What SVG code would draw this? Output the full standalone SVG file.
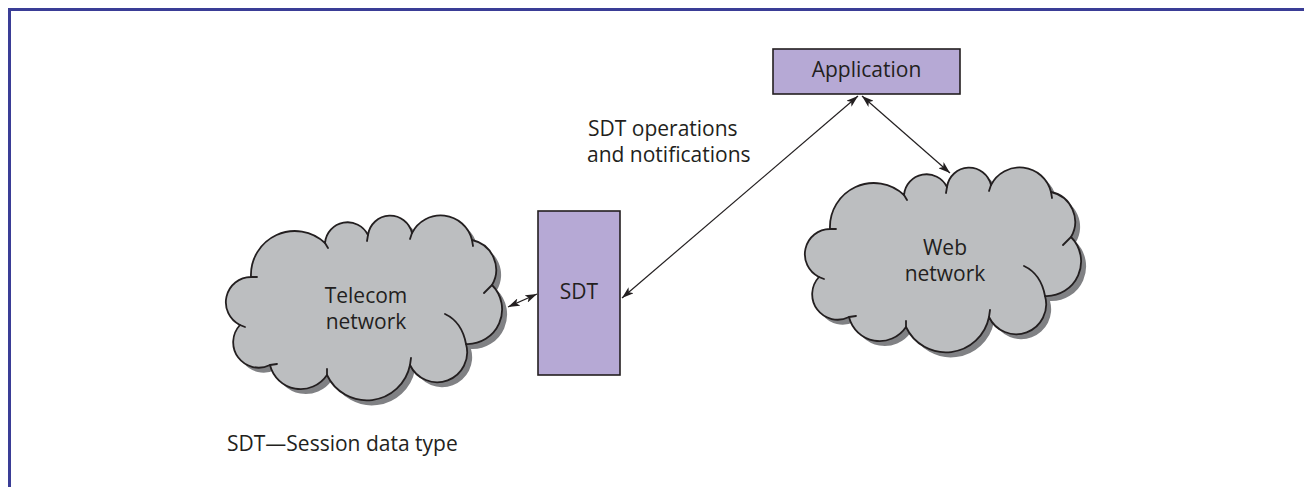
<svg xmlns="http://www.w3.org/2000/svg" xmlns:xlink="http://www.w3.org/1999/xlink" width="1304" height="487" viewBox="0 0 1304 487">
  <style>
    .frame { fill: none; stroke: #3a3d96; stroke-width: 3; }
    .box { fill: #b6a9d5; stroke: #231f20; stroke-width: 1.6; }
    .cloud { fill: #bcbec0; stroke: #231f20; stroke-width: 1.8; stroke-linejoin: round; }
    .cloud-shadow { fill: #808184; }
    .tail { fill: none; stroke: #231f20; stroke-width: 1.8; stroke-linecap: round; }
    .label { font-family: "Open Sans", "Noto Sans", sans-serif; font-size: 21px; fill: #231f20; }
    .mid { text-anchor: middle; }
    .link { fill: none; stroke: #231f20; stroke-width: 1.2; marker-start: url(#arrow); marker-end: url(#arrow); }
  </style>
  <defs>
    <marker id="arrow" viewBox="0 0 12 8" refX="12" refY="4" markerWidth="12" markerHeight="8" markerUnits="userSpaceOnUse" orient="auto-start-reverse">
      <path d="M0,0 L12,4 L0,8 L3,4 z" fill="#231f20"/>
    </marker>
    <!-- cloud outline built from circular bumps -->
    <path id="cloudShape" d="M251,277 A25.3,25.3 0 0 0 240,325 A25.4,25.4 0 0 0 270,365 A31.6,31.6 0 0 0 327,375 A44,44 0 0 0 410,365 A30,30 0 0 0 466,344 A34.6,34.6 0 0 0 492,285 A30.4,30.4 0 0 0 472,240 A32.2,32.2 0 0 0 412,233 A22.4,22.4 0 0 0 368,235 A22.7,22.7 0 0 0 325,243 A43.9,43.9 0 0 0 251,277 Z"/>
    <path id="cloudTails" d="M466,344 Q462,322 445,314 M240,325 l5,2 M270,365 l7,-1 M327,375 l0,-6 M410,365 l1,-7 M492,285 l-8,8 M472,240 l1,6 M412,233 l-2,6 M368,235 l-1,6 M325,243 l3,5 M251,277 l6,0"/>
    <g id="cloud">
      <use xlink:href="#cloudShape" href="#cloudShape" class="cloud-shadow" transform="translate(5,5)"/>
      <use xlink:href="#cloudShape" href="#cloudShape" class="cloud"/>
      <use xlink:href="#cloudTails" href="#cloudTails" class="tail"/>
    </g>
  </defs>

  <!-- page frame: top and left rules -->
  <path class="frame" d="M9.5,487 L9.5,9.5 L1304,9.5"/>

  <g id="telecom-network">
    <use xlink:href="#cloud" href="#cloud"/>
    <text class="label mid" x="366" y="303">Telecom</text>
    <text class="label mid" x="366" y="329">network</text>
  </g>

  <g id="web-network">
    <use xlink:href="#cloud" href="#cloud" transform="translate(579,-48)"/>
    <text class="label mid" x="945" y="255">Web</text>
    <text class="label mid" x="945" y="281">network</text>
  </g>

  <g id="sdt">
    <rect class="box" x="538" y="211" width="82" height="164"/>
    <text class="label mid" x="579" y="299">SDT</text>
  </g>

  <g id="application">
    <rect class="box" x="773" y="49" width="187" height="45"/>
    <text class="label mid" x="866.5" y="77">Application</text>
  </g>

  <g id="connectors">
    <path class="link" d="M508,307 L537,294"/>
    <path class="link" d="M622,298 L858,96"/>
    <path class="link" d="M862,96 L950,173"/>
  </g>

  <g id="connector-label">
    <text class="label" x="588" y="136">SDT operations</text>
    <text class="label" x="587" y="162">and notifications</text>
  </g>

  <g id="legend">
    <text class="label" x="227" y="451">SDT—Session data type</text>
  </g>
</svg>
